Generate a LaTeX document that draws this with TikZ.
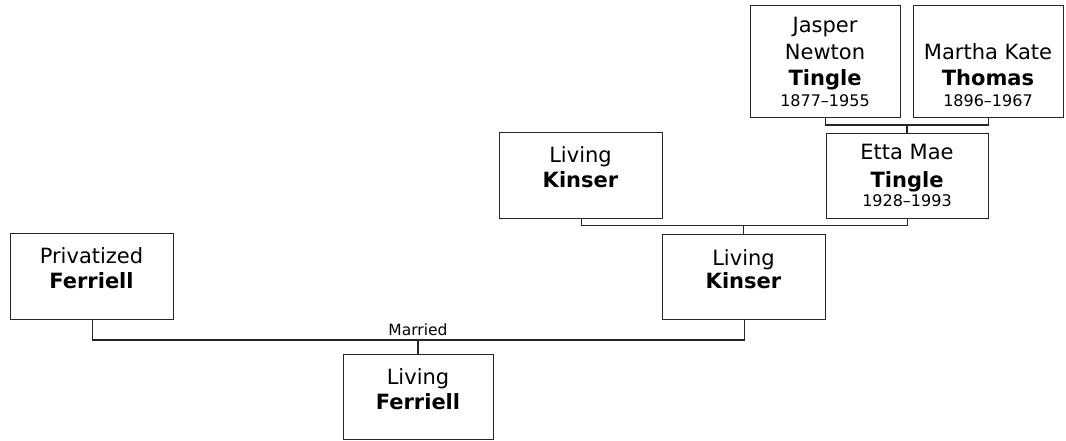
\documentclass[tikz,border=0pt]{standalone}
\usepackage{fontspec}
\setmainfont{DejaVu Sans}
\begin{document}
\begin{tikzpicture}[x=1pt,y=-1pt,
  person/.style={draw=black!85,line width=1.3pt,fill=white,inner sep=0pt,anchor=north west},
  nm/.style={anchor=base,inner sep=0pt,font=\fontsize{21}{25}\selectfont},
  sn/.style={anchor=base,inner sep=0pt,font=\fontsize{21}{25}\selectfont\bfseries},
  dt/.style={anchor=base,inner sep=0pt,font=\fontsize{16}{19}\selectfont},
  lbl/.style={anchor=base,inner sep=0pt,font=\fontsize{15.5}{18}\selectfont},
  link/.style={draw=black!85,line width=1.3pt}]
\useasboundingbox (0,0) rectangle (1066,441);
% boxes
\node[person,minimum width=150pt,minimum height=112pt] (jasper) at (750,5) {};
\node[person,minimum width=150pt,minimum height=112pt] (martha) at (913,5) {};
\node[person,minimum width=162pt,minimum height=85pt] (etta) at (826,133) {};
\node[person,minimum width=163pt,minimum height=86pt] (kinserf) at (499,132) {};
\node[person,minimum width=163pt,minimum height=85pt] (kinserc) at (662,234) {};
\node[person,minimum width=163pt,minimum height=86pt] (priv) at (10,233) {};
\node[person,minimum width=150pt,minimum height=85pt] (ferriell) at (343,354) {};
% texts
\node[nm] (j1) at (825,33) {Jasper};
\node[nm] (j2) at (825,60) {Newton};
\node[sn] (j3) at (825,86) {Tingle};
\node[dt] (j4) at (825,107) {1877–1955};
\node[nm] (m1) at (988,60) {Martha Kate};
\node[sn] (m2) at (988,86) {Thomas};
\node[dt] (m3) at (988,107) {1896–1967};
\node[nm] (e1) at (907,160) {Etta Mae};
\node[sn] (e2) at (907,187) {Tingle};
\node[dt] (e3) at (907,207) {1928–1993};
\node[nm] (kf1) at (580.5,163) {Living};
\node[sn] (kf2) at (580.5,187) {Kinser};
\node[nm] (kc1) at (743.5,265) {Living};
\node[sn] (kc2) at (743.5,288) {Kinser};
\node[nm] (p1) at (91.5,263) {Privatized};
\node[sn] (p2) at (91.5,288) {Ferriell};
\node[nm] (f1) at (418,384) {Living};
\node[sn] (f2) at (418,409) {Ferriell};
% connectors
\coordinate (u1) at (907,125);
\coordinate (u2) at (743.5,225.5);
\coordinate (u3) at (418,340);
\draw[link] (jasper.south) |- (u1) -| (martha.south);
\draw[link] (u1) -- (u1 |- etta.north);
\draw[link] (kinserf.south) |- (u2) -| (etta.south);
\draw[link] (u2) -- (u2 |- kinserc.north);
\draw[link] (priv.south) |- (u3) -| (kinserc.south);
\draw[link] (u3) -- (u3 |- ferriell.north);
\node[lbl] (married) at (418,335.5) {Married};
\end{tikzpicture}
\end{document}
